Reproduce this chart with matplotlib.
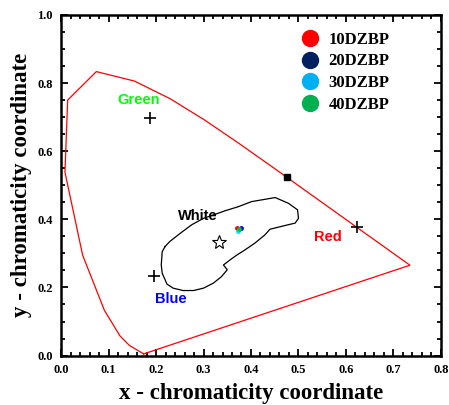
import numpy as np
import matplotlib.pyplot as plt
from matplotlib.lines import Line2D

# CIE 1931 spectral locus
locus_x = [0.1741, 0.1440, 0.1241, 0.0913, 0.0454, 0.0082, 0.0139, 0.0743, 0.1547,
           0.2296, 0.3016, 0.3731, 0.4441, 0.5125, 0.5752, 0.6270, 0.6658, 0.6915, 0.7347]
locus_y = [0.0050, 0.0297, 0.0578, 0.1327, 0.2950, 0.5384, 0.7502, 0.8338, 0.8059,
           0.7543, 0.6923, 0.6245, 0.5547, 0.4866, 0.4242, 0.3725, 0.3340, 0.3083, 0.2653]

# white region outline
white_x = [0.219, 0.229, 0.251, 0.275, 0.300, 0.331, 0.345, 0.373, 0.401, 0.451, 0.479,
           0.498, 0.500, 0.493, 0.472, 0.440, 0.429, 0.408, 0.387, 0.370, 0.356, 0.342,
           0.350, 0.338, 0.321, 0.300, 0.279, 0.257, 0.236, 0.223, 0.213, 0.211, 0.213]
white_y = [0.320, 0.335, 0.359, 0.384, 0.403, 0.418, 0.425, 0.437, 0.452, 0.464, 0.447,
           0.428, 0.403, 0.389, 0.382, 0.371, 0.354, 0.330, 0.310, 0.295, 0.281, 0.266,
           0.252, 0.232, 0.213, 0.198, 0.191, 0.191, 0.198, 0.210, 0.242, 0.266, 0.305]

# primaries (+), white point (star), square point
prim_x = [0.187, 0.623, 0.196]
prim_y = [0.697, 0.378, 0.233]
white_pt = (0.333, 0.333)
square_pt = (0.475, 0.525)

# samples
samples = ['10DZBP', '20DZBP', '30DZBP', '40DZBP']
samp_x = [0.371, 0.380, 0.373, 0.375]
samp_y = [0.374, 0.376, 0.367, 0.372]
samp_colors = ['#ff0000', '#0000ff', '#00e5ff', '#00c040']
legend_colors = ['#ff0000', '#002060', '#00b0f0', '#00b050']

serif = 'Liberation Serif'
sans = 'Liberation Sans'

fig = plt.figure(figsize=(4.49, 4.05), dpi=100)
ax = fig.add_axes([0.136, 0.122, 0.846, 0.841])

ax.plot(locus_x + [locus_x[0]], locus_y + [locus_y[0]], color='red', lw=0.9)
ax.plot(white_x + [white_x[0]], white_y + [white_y[0]], color='black', lw=0.9)

ax.plot(prim_x, prim_y, ls='none', marker='+', color='black', ms=8, mew=1.2)
ax.plot(*white_pt, marker='*', mfc='white', mec='black', ms=10, mew=0.8)
ax.plot(*square_pt, marker='s', color='black', ms=4.5)

for x, y, c in zip(samp_x, samp_y, samp_colors):
    ax.plot(x, y, 'o', color=c, ms=3.5, mew=0)

ax.text(0.163, 0.751, 'Green', color='#00ff00', fontsize=10.5, fontweight='bold',
        family=sans, ha='center', va='center')
ax.text(0.289, 0.411, 'White', color='black', fontsize=10.5, fontweight='bold',
        family=sans, ha='center', va='center')
ax.text(0.231, 0.166, 'Blue', color='#0000ff', fontsize=10.5, fontweight='bold',
        family=sans, ha='center', va='center')
ax.text(0.561, 0.347, 'Red', color='#ff0000', fontsize=10.5, fontweight='bold',
        family=sans, ha='center', va='center')

handles = [Line2D([], [], ls='none', marker='o', color=c, ms=11.5) for c in legend_colors]
leg = ax.legend(handles, samples, loc='upper left', bbox_to_anchor=(0.595, 0.971),
                frameon=False, handletextpad=0.1, labelspacing=0.35, borderaxespad=0,
                prop={'family': serif, 'weight': 'bold', 'size': 12})

ax.set_xlim(0, 0.8)
ax.set_ylim(0, 1.0)
ax.set_xticks(np.arange(0, 0.81, 0.1))
ax.set_xticks(np.arange(0, 0.81, 0.02), minor=True)
ax.set_yticks(np.arange(0, 1.01, 0.2))
ax.set_yticks(np.arange(0, 1.01, 0.05), minor=True)
ax.tick_params(which='both', direction='in', top=True, right=True, width=1.3)
ax.tick_params(which='major', length=5, labelsize=9, pad=6)
ax.tick_params(which='minor', length=3)
for lab in ax.get_xticklabels() + ax.get_yticklabels():
    lab.set_family(serif)
    lab.set_fontweight('bold')
for s in ax.spines.values():
    s.set_linewidth(1.8)

ax.set_xlabel('x - chromaticity coordinate', family=serif, fontweight='bold', fontsize=16.5, labelpad=5)
ax.set_ylabel('y - chromaticity coordinate', family=serif, fontweight='bold', fontsize=16.5, labelpad=4)

fig.savefig('out.png', dpi=100)
